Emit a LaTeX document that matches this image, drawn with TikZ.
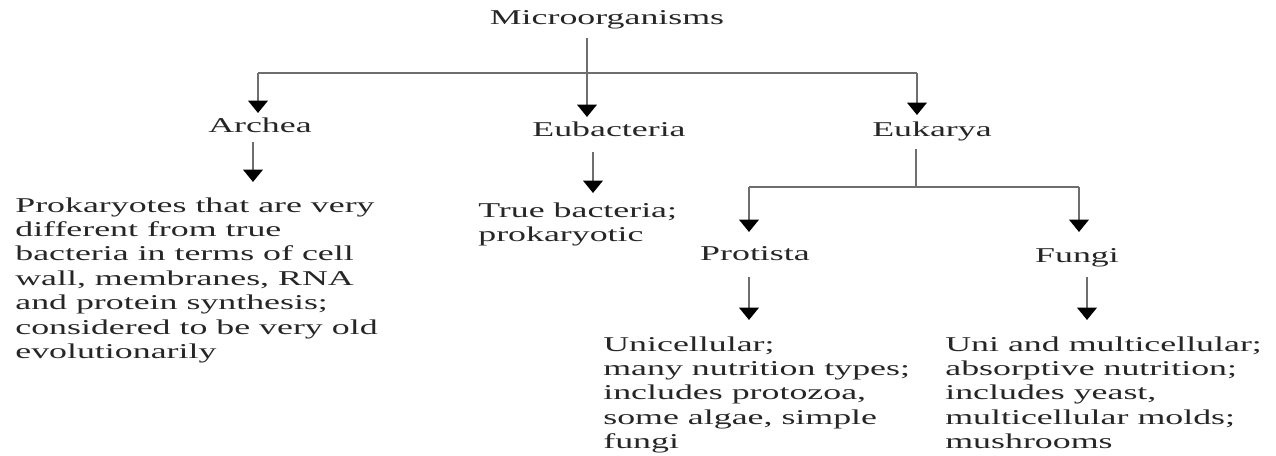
\documentclass[tikz,border=0pt]{standalone}
\usepackage{fontspec}
\usepackage{graphicx}
\setmainfont{Liberation Serif}
\usetikzlibrary{arrows.meta}

\definecolor{inkgray}{HTML}{262626}
\definecolor{linegray}{HTML}{6E6E6E}
% wide serif text, as in the scanned figure
\newcommand{\widetext}[1]{\scalebox{1.7}[1]{\fontsize{12}{13.9}\selectfont\begin{tabular}{@{}l@{}}#1\end{tabular}}}

\begin{document}
\begin{tikzpicture}[x=0.02cm, y=-0.02cm]
\tikzstyle{labelStyle}=[inner sep = 0pt, text = inkgray]
\tikzstyle{blockStyle}=[inner sep = 0pt, text = inkgray, anchor = west]
\tikzstyle{lineStyle}=[draw = linegray, line width = 1.4pt]
\tikzstyle{arrowStyle}=[lineStyle, -{Triangle[width = 11pt, length = 7pt, black]}]
\useasboundingbox (0,0) rectangle (1276,456);
% labels
\node[labelStyle] (micro) at (607,20) {\widetext{Microorganisms}};
\node[labelStyle] (archea) at (260,128) {\widetext{Archea}};
\node[labelStyle] (eubact) at (609,132) {\widetext{Eubacteria}};
\node[labelStyle] (eukarya) at (932,132) {\widetext{Eukarya}};
\node[labelStyle] (protista) at (755,256) {\widetext{Protista}};
\node[labelStyle] (fungi) at (1077,258) {\widetext{Fungi}};
% descriptions
\node[blockStyle] (archeaText) at (15,280.5) {\widetext{Prokaryotes that are very\\ different from true\\ bacteria in terms of cell\\ wall, membranes, RNA\\ and protein synthesis;\\ considered to be very old\\ evolutionarily}};
\node[blockStyle] (eubactText) at (478,224.5) {\widetext{True bacteria;\\ prokaryotic}};
\node[blockStyle] (protistaText) at (603,395) {\widetext{Unicellular;\\ many nutrition types;\\ includes protozoa,\\ some algae, simple\\ fungi}};
\node[blockStyle] (fungiText) at (945,395) {\widetext{Uni and multicellular;\\ absorptive nutrition;\\ includes yeast,\\ multicellular molds;\\ mushrooms}};
% junction points
\coordinate (m0) at (587,38);
\coordinate (m1) at (587,73);
\coordinate (l1) at (258,73);
\coordinate (r1) at (917,73);
\coordinate (k0) at (916,149);
\coordinate (k1) at (916,187);
\coordinate (p1) at (749,187);
\coordinate (f1) at (1079,187);
% tree lines
\draw[lineStyle] (m0) -- (m1);
\draw[lineStyle] (l1) -- (r1);
\draw[arrowStyle] (m1) -- (587,117);
\draw[arrowStyle] (l1) -- (258,113);
\draw[arrowStyle] (r1) -- (917,115);
\draw[arrowStyle] (253,142) -- (253,182);
\draw[arrowStyle] (593,152) -- (593,193);
\draw[lineStyle] (k0) -- (k1);
\draw[lineStyle] (p1) -- (f1);
\draw[arrowStyle] (p1) -- (749,232);
\draw[arrowStyle] (f1) -- (1079,232);
\draw[arrowStyle] (749,277) -- (749,320);
\draw[arrowStyle] (1087,277) -- (1087,320);
\end{tikzpicture}
\end{document}
